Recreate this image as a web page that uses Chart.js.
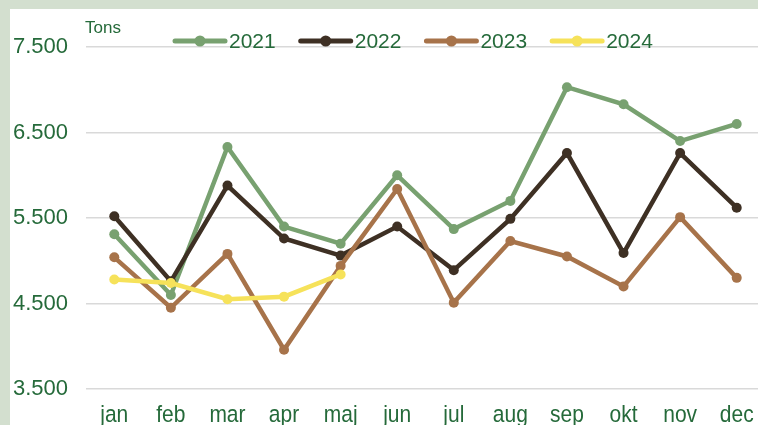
<!DOCTYPE html>
<html>
<head>
<meta charset="utf-8">
<script src="https://cdn.jsdelivr.net/npm/chart.js@4"></script>
<style>
  html, body { margin: 0; padding: 0; width: 758px; height: 425px; overflow: hidden; background: #d3dfcf; }
  #frame { position: absolute; left: 10px; top: 9px; width: 748px; height: 416px; background: #fff; overflow: hidden; }
  canvas { display: block; }
</style>
</head>
<body>
<div id="frame"><canvas id="tonsChart" width="760" height="416"></canvas></div>
<script>
// Monthly tons per year
const months = ['jan', 'feb', 'mar', 'apr', 'maj', 'jun', 'jul', 'aug', 'sep', 'okt', 'nov', 'dec'];
const years = ['2021', '2022', '2023', '2024'];
const tons2021 = [5310, 4600, 6330, 5400, 5200, 6000, 5370, 5700, 7030, 6830, 6400, 6600];
const tons2022 = [5520, 4760, 5880, 5260, 5060, 5400, 4890, 5490, 6260, 5090, 6260, 5620];
const tons2023 = [5040, 4450, 5080, 3960, 4940, 5840, 4510, 5230, 5050, 4700, 5510, 4800];
const tons2024 = [4780, 4740, 4550, 4580, 4840];
const yTicks = [3500, 4500, 5500, 6500, 7500];
const colors = ['#78a170', '#3e3024', '#a7734a', '#f6e25a'];
const textGreen = '#256a3a';
const fontFamily = '"Liberation Sans", Arial, sans-serif';

// Legend drawn as line + dot, like the original spreadsheet chart,
// plus the month labels which sit lower than Chart.js would put them
const extras = {
  id: 'extras',
  afterDraw(chart) {
    const ctx = chart.ctx;
    ctx.save();
    ctx.fillStyle = textGreen;

    // month labels from the x scale (slightly stretched vertically, like the source)
    ctx.font = '21px ' + fontFamily;
    ctx.textAlign = 'center';
    ctx.textBaseline = 'alphabetic';
    const xScale = chart.scales.x;
    const baseY = chart.chartArea.bottom + 33;
    months.forEach((m, i) => {
      ctx.save();
      ctx.translate(xScale.getPixelForTick(i), baseY);
      ctx.scale(1, 1.12);
      ctx.fillText(m, 0, 0);
      ctx.restore();
    });

    // unit label
    ctx.textAlign = 'left';
    ctx.textBaseline = 'middle';
    ctx.font = '17px ' + fontFamily;
    ctx.fillText('Tons', 75, 19);

    ctx.font = '21px ' + fontFamily;
    let x = 165;
    const y = 32;
    years.forEach((yr, i) => {
      ctx.strokeStyle = colors[i];
      ctx.lineWidth = 5;
      ctx.lineCap = 'round';
      ctx.beginPath();
      ctx.moveTo(x, y);
      ctx.lineTo(x + 50, y);
      ctx.stroke();
      ctx.fillStyle = colors[i];
      ctx.beginPath();
      ctx.arc(x + 25, y, 5.5, 0, Math.PI * 2);
      ctx.fill();
      ctx.fillStyle = textGreen;
      ctx.fillText(yr, x + 54, y + 1);
      x += 54 + ctx.measureText(yr).width + 25;
    });
    ctx.restore();
  }
};

const seriesData = [tons2021, tons2022, tons2023, tons2024];

new Chart(document.getElementById('tonsChart'), {
  type: 'line',
  data: {
    labels: months,
    datasets: years.map((yr, i) => ({
      label: yr,
      data: seriesData[i],
      order: years.length - 1 - i, // later years drawn on top
      borderColor: colors[i],
      backgroundColor: colors[i],
      borderWidth: 4.5,
      pointRadius: 5,
      pointBackgroundColor: colors[i],
      pointBorderWidth: 0,
      tension: 0,
      fill: false
    }))
  },
  options: {
    responsive: false,
    animation: false,
    devicePixelRatio: 1,
    layout: { padding: { left: 3, top: 38, right: 0, bottom: 0 } },
    plugins: {
      legend: { display: false },
      tooltip: { enabled: false }
    },
    scales: {
      x: {
        offset: true,
        grid: { display: false, drawTicks: false },
        border: { display: false },
        ticks: { display: false, autoSkip: false },
        afterFit(scale) { scale.height = 36; }
      },
      y: {
        min: 3500,
        max: 7500,
        afterBuildTicks(scale) { scale.ticks = yTicks.map(v => ({ value: v })); },
        grid: { color: '#d9d9d9', lineWidth: 1.5, drawTicks: false },
        border: { display: false },
        ticks: {
          color: textGreen,
          crossAlign: 'far',
          font: { family: fontFamily, size: 22 },
          callback: v => v.toLocaleString('da-DK')
        },
        afterFit(scale) { scale.width = 73; }
      }
    }
  },
  plugins: [extras]
});
</script>
</body>
</html>
